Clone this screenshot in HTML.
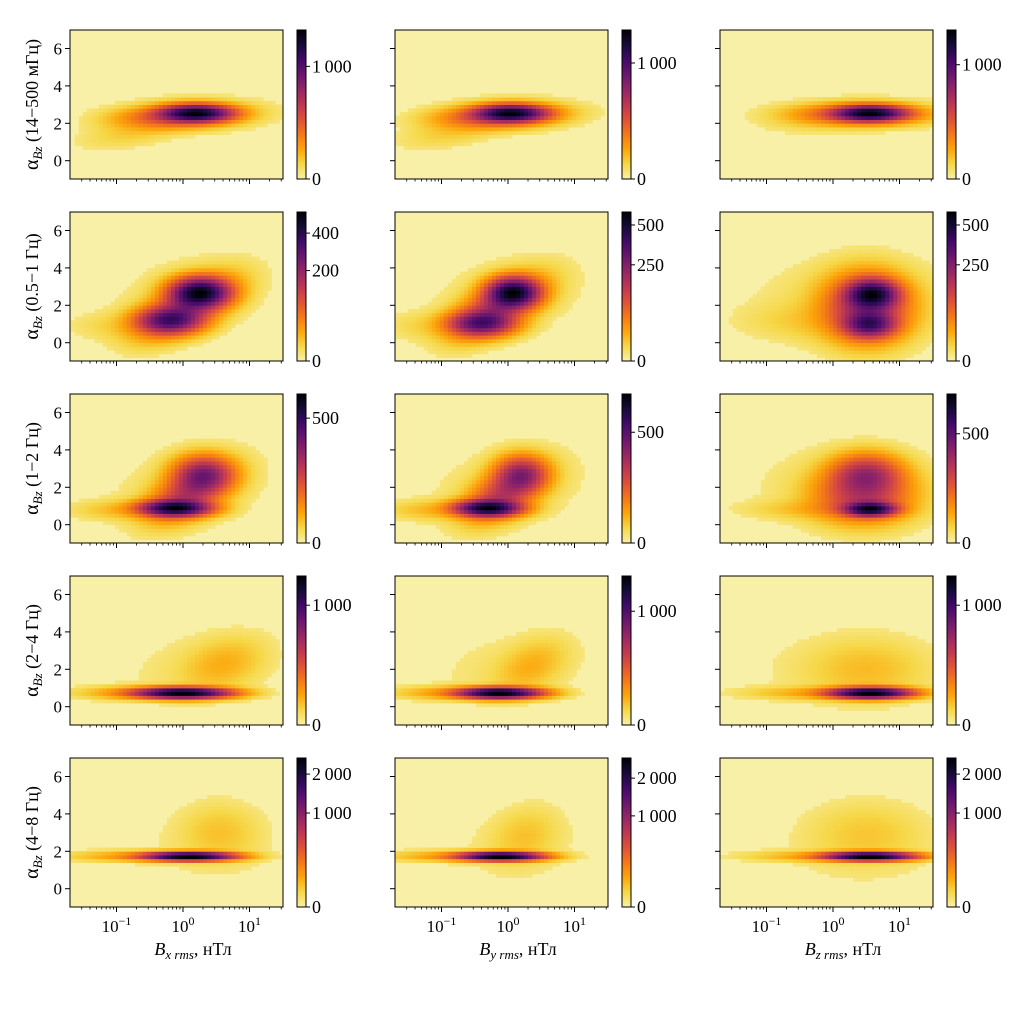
<!DOCTYPE html>
<html><head><meta charset="utf-8">
<style>
html,body{margin:0;padding:0;background:#fff;}
svg{display:block;font-family:"Liberation Serif",serif;}
</style></head>
<body>
<svg id="fig" width="1029" height="1011" viewBox="0 0 1029 1011" xmlns="http://www.w3.org/2000/svg"></svg>
<script>
// ---- data ----
const rowLabels = ["(14\u2212500 \u043c\u0413\u0446)","(0.5\u22121 \u0413\u0446)","(1\u22122 \u0413\u0446)","(2\u22124 \u0413\u0446)","(4\u22128 \u0413\u0446)"];
const colComponents = ["x","y","z"];
const yTicks = [0,2,4,6];
const xMajorTicks = [-1,0,1];
const cbarMax = [[1750,1650,1700],[543,600,600],[712,905,930],[1547,1715,1547],[2514,2674,2514]];
const cbarTicks = [
 [[0,1000],[0,1000],[0,1000]],
 [[0,200,400],[0,250,500],[0,250,500]],
 [[0,500],[0,500],[0,500]],
 [[0,1000],[0,1000],[0,1000]],
 [[0,1000,2000],[0,1000,2000],[0,1000,2000]]
];
// density components [log10 x, alpha, sx, sy, relative amplitude, correlation]
const blobs = [
 [
  [[0.2,2.55,0.3,0.26,1,0],[-0.05,2.4,0.5,0.35,0.25,0.2],[-0.7,1.6,0.45,0.5,0.02,0.5],[0.3,2.5,0.7,0.6,0.006,0]],
  [[0.05,2.55,0.3,0.26,1,0],[-0.15,2.4,0.5,0.35,0.25,0.2],[-0.8,1.6,0.45,0.5,0.02,0.5],[0.1,2.5,0.7,0.6,0.006,0]],
  [[0.56,2.55,0.3,0.24,1,0],[0.4,2.5,0.55,0.32,0.22,0],[-0.2,2.2,0.5,0.4,0.01,0.3],[0.6,2.5,0.8,0.55,0.005,0]]
 ],
 [
  [[0.25,2.7,0.25,0.45,1,0],[-0.2,1.2,0.28,0.4,0.6,0],[0.05,1.9,0.38,0.85,0.35,0.6],[-0.8,0.9,0.45,0.45,0.018,0],[0.1,2.5,0.6,1.2,0.012,0.3]],
  [[0.08,2.7,0.22,0.45,1,0],[-0.39,1.05,0.28,0.38,0.6,0],[-0.15,1.9,0.36,0.85,0.35,0.6],[-1.0,0.9,0.45,0.45,0.018,0],[0.0,2.5,0.6,1.2,0.012,0.3]],
  [[0.59,2.6,0.22,0.45,1,0],[0.55,1.0,0.22,0.4,0.7,0],[0.5,1.9,0.36,1.0,0.4,0],[-0.3,1.2,0.6,0.6,0.018,0],[0.4,2.2,0.8,1.3,0.015,0]]
 ],
 [
  [[-0.12,0.9,0.3,0.25,1,0],[0.3,2.7,0.25,0.55,0.45,0],[0.1,1.7,0.33,0.8,0.3,0.5],[-0.8,0.8,0.45,0.3,0.035,0],[0.1,2.0,0.65,1.3,0.01,0.3]],
  [[-0.3,0.9,0.28,0.25,1,0],[0.2,2.7,0.22,0.55,0.4,0],[-0.05,1.7,0.31,0.8,0.28,0.5],[-1.0,0.8,0.45,0.3,0.035,0],[0.0,2.0,0.65,1.3,0.01,0.3]],
  [[0.56,0.85,0.22,0.22,1,0],[0.5,2.7,0.3,0.6,0.35,0],[0.45,1.6,0.4,0.8,0.28,0],[-0.1,0.85,0.6,0.3,0.035,0],[0.3,2.0,0.8,1.3,0.01,0]]
 ],
 [
  [[0.0,0.75,0.4,0.17,1,0],[-0.7,0.75,0.5,0.2,0.05,0],[0.6,2.3,0.35,0.8,0.03,0.3],[0.2,2.0,0.7,1.3,0.004,0.2]],
  [[-0.12,0.75,0.35,0.17,1,0],[-0.8,0.75,0.5,0.2,0.05,0],[0.35,2.2,0.3,0.8,0.03,0.4],[0.0,2.0,0.7,1.3,0.004,0.2]],
  [[0.56,0.75,0.35,0.17,1,0],[-0.2,0.75,0.6,0.2,0.04,0],[0.5,2.0,0.5,0.9,0.02,0],[0.3,2.0,0.9,1.3,0.004,0]]
 ],
 [
  [[0.1,1.75,0.38,0.13,1,0],[-0.7,1.75,0.55,0.16,0.05,0],[0.55,3.0,0.35,0.9,0.018,0],[0.3,2.0,0.8,1.3,0.002,0]],
  [[-0.1,1.75,0.35,0.13,1,0],[-0.8,1.75,0.55,0.16,0.05,0],[0.25,2.8,0.3,0.9,0.018,0.2],[0.1,2.0,0.8,1.3,0.002,0]],
  [[0.55,1.75,0.38,0.13,1,0],[-0.2,1.75,0.6,0.16,0.04,0],[0.5,2.9,0.5,1.0,0.015,0],[0.4,2.0,0.9,1.4,0.002,0]]
 ]
];
const infernoStops = ["#000004","#160b39","#420a68","#6a176e","#932667","#bc3754","#dd513a","#f37819","#fca50a","#f6d746","#f8f0a6"];

// ---- layout ----
const NS="http://www.w3.org/2000/svg";
const svg=document.getElementById('fig');
const colX=[70,395,720], rowY=[30,212,394,576,758], PW=213, PH=149;
const XMIN=-1.69, XMAX=1.51, YMIN=-1, YMAX=7;
function el(tag,attrs,parent){const e=document.createElementNS(NS,tag);for(const k in attrs)e.setAttribute(k,attrs[k]);(parent||svg).appendChild(e);return e;}
function hex(h){return [parseInt(h.slice(1,3),16),parseInt(h.slice(3,5),16),parseInt(h.slice(5,7),16)];}
const stopsRGB=infernoStops.map(hex);
function inferno(t){t=Math.max(0,Math.min(1,t));const p=t*10,i=Math.min(9,Math.floor(p)),f=p-i;const a=stopsRGB[i],b=stopsRGB[i+1];
 return 'rgb('+[0,1,2].map(k=>Math.round(a[k]+(b[k]-a[k])*f)).join(',')+')';}
function xs(c,lx){return colX[c]+113+lx*66.5;}
function ys(r,y){return rowY[r]+130.7-y*18.7;}
function density(list,lx,y){let v=0;for(const b of list){const dx=(lx-b[0])/b[2],dy=(y-b[1])/b[3],r=b[5];
 v+=b[4]*Math.exp(-(dx*dx-2*r*dx*dy+dy*dy)/(2*(1-r*r)));}return v;}

const defs=el('defs',{});
const NXB=53, NYB=40, bx=(XMAX-XMIN)/NXB, by=(YMAX-YMIN)/NYB;

for(let r=0;r<5;r++){for(let c=0;c<3;c++){
 const g=el('g',{});
 
 
 const x0=colX[c], y0=rowY[r];
 const cpId='cp'+r+c;
 const cp=el('clipPath',{id:cpId},defs);el('rect',{x:x0,y:y0,width:PW,height:PH},cp);
 const bg=el('rect',{x:x0,y:y0,width:PW,height:PH,fill:inferno(1)},g);
 
 
 const hm=el('g',{'clip-path':'url(#'+cpId+')'},g);
 
 
 const list=blobs[r][c];
 const vals=[];let vmax=0;
 for(let i=0;i<NXB;i++)for(let j=0;j<NYB;j++){const lx=XMIN+(i+0.5)*bx,yy=YMIN+(j+0.5)*by;const v=density(list,lx,yy);vals.push([i,j,v]);if(v>vmax)vmax=v;}
 for(const [i,j,v] of vals){const n=v/vmax;if(n<0.002)continue;
  const xa=xs(c,XMIN+i*bx),xb=xs(c,XMIN+(i+1)*bx),ya=ys(r,YMIN+(j+1)*by),yb=ys(r,YMIN+j*by);
  const cell=el('rect',{x:xa.toFixed(2),y:ya.toFixed(2),width:(xb-xa+0.4).toFixed(2),height:(yb-ya+0.4).toFixed(2),fill:inferno(1-Math.sqrt(n))},hm);
  
  
 }
 el('rect',{x:x0,y:y0,width:PW,height:PH,fill:'none',stroke:'#000','stroke-width':1},g);
 for(const t of yTicks){const yy=ys(r,t);el('line',{x1:x0,x2:x0-5,y1:yy,y2:yy,stroke:'#000','stroke-width':1},g);
  if(c===0){const tl=el('text',{x:x0-8,y:yy+6,'text-anchor':'end','font-size':17},g);tl.textContent=t;
   
   }}
 const yb=y0+PH;
 for(let d=-2;d<=1;d++)for(let k=1;k<=9;k++){const lx=d+Math.log10(k);if(lx<XMIN||lx>XMAX)continue;const xx=xs(c,lx);
  const major=(k===1);el('line',{x1:xx,x2:xx,y1:yb,y2:yb+(major?5:2.5),stroke:'#000','stroke-width':major?1:0.8},g);}
 if(r===4){for(const t of xMajorTicks){const xx=xs(c,t);const tl=el('text',{x:xx,y:yb+25,'text-anchor':'middle','font-size':17},g);
   
   
   const a=el('tspan',{},tl);a.textContent='10';
   const b=el('tspan',{'font-size':12,dy:-7},tl);b.textContent=(t<0?'\u2212'+(-t):String(t));}
  const xl=el('text',{x:xs(c,0)+10,y:yb+48,'text-anchor':'middle','font-size':18},g);
  
  
  const t1=el('tspan',{'font-style':'italic'},xl);t1.textContent='B';
  const t2=el('tspan',{'font-style':'italic','font-size':13,dy:4},xl);t2.textContent=colComponents[c]+' rms';
  const t3=el('tspan',{dy:-4},xl);t3.textContent=', \u043d\u0422\u043b';
 }
 const cx=x0+227,cw=9;
 const gid='grad'+r+c;
 const lg=el('linearGradient',{id:gid,x1:0,y1:1,x2:0,y2:0},defs);
 for(let s=0;s<=10;s++){el('stop',{offset:s/10,'stop-color':inferno(1-s/10)},lg);}
 const cb=el('rect',{x:cx,y:y0,width:cw,height:PH,fill:'url(#'+gid+')',stroke:'#000','stroke-width':1},g);
 
 
 for(const tv of cbarTicks[r][c]){const f=Math.sqrt(tv/cbarMax[r][c]);const yy=y0+PH-f*PH;
  el('line',{x1:cx+cw,x2:cx+cw+4,y1:yy,y2:yy,stroke:'#000','stroke-width':1},g);
  const tl=el('text',{x:cx+cw+6,y:yy+6,'font-size':18},g);
  tl.textContent=tv>=1000?(Math.floor(tv/1000)+'\u2009'+String(tv%1000).padStart(3,'0')):String(tv);
  
  }
 if(c===0){const cyc=y0+PH/2;const yl=el('text',{x:0,y:0,'text-anchor':'middle','font-size':18,transform:'translate(38,'+cyc+') rotate(-90)'},g);
  
  
  const a=el('tspan',{'font-size':20},yl);a.textContent='\u03b1';
  const b=el('tspan',{'font-style':'italic','font-size':13,dy:4},yl);b.textContent='Bz';
  const d=el('tspan',{dy:-4},yl);d.textContent=' '+rowLabels[r];}
}}
</script>
</body></html>
